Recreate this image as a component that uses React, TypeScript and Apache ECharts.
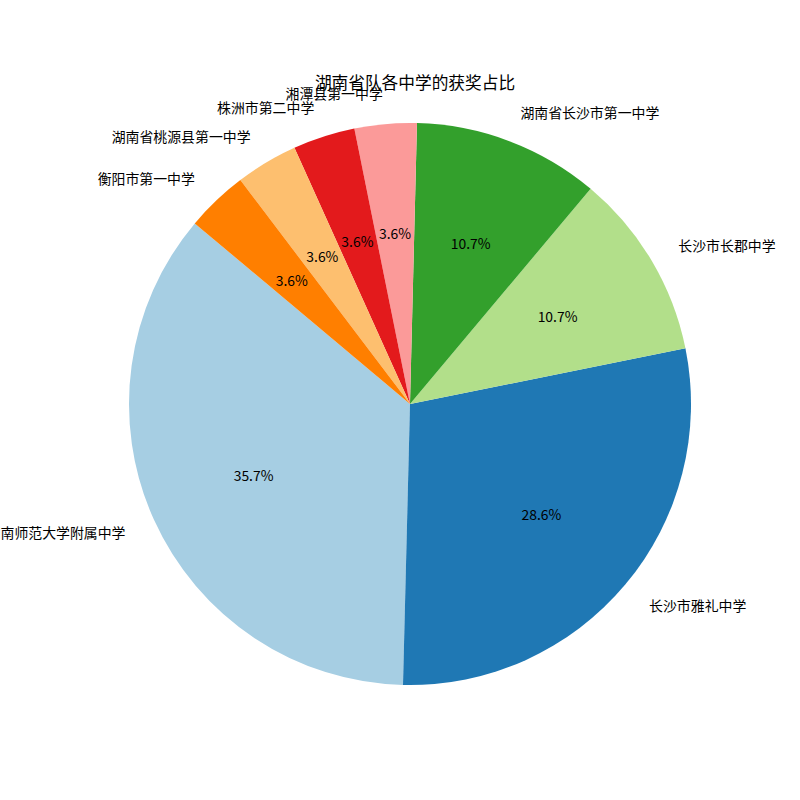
import React, { useEffect, useRef } from "react";
import * as echarts from "echarts";

const schools = [
  "湖南师范大学附属中学",
  "长沙市雅礼中学",
  "长沙市长郡中学",
  "湖南省长沙市第一中学",
  "湘潭县第一中学",
  "株洲市第二中学",
  "湖南省桃源县第一中学",
  "衡阳市第一中学",
];
const awards = [10, 8, 3, 3, 1, 1, 1, 1];
const colors = ["#a6cee3", "#1f78b4", "#b2df8a", "#33a02c", "#fb9a99", "#e31a1c", "#fdbf6f", "#ff7f00"];
const titleText = "湖南省队各中学的获奖占比";

const START = 140;
const CX = 410;
const CY = 404;
const R = 281;
const FONT = "'Noto Sans CJK SC', 'Noto Sans', sans-serif";

export default function App() {
  const ref = useRef<HTMLDivElement>(null);
  useEffect(() => {
    if (!ref.current) return;
    const chart = echarts.init(ref.current, undefined, { renderer: "svg" });
    const total = awards.reduce((a, b) => a + b, 0);
    let cum = 0;
    const sides = awards.map((v) => {
      const mid = START + (360 * (cum + v / 2)) / total;
      cum += v;
      return Math.cos((mid * Math.PI) / 180) > 0 ? "left" : "right";
    });
    const data = schools.map((name, i) => ({ name, value: awards[i] }));
    const transparent = { color: "rgba(0,0,0,0)" };
    chart.setOption({
      animation: false,
      title: {
        text: titleText,
        left: CX,
        top: 69,
        textAlign: "center",
        textStyle: { fontFamily: FONT, fontSize: 16.7, fontWeight: "normal", color: "#000" },
      },
      series: [
        {
          type: "pie",
          center: [CX, CY],
          radius: [0, R],
          startAngle: START,
          clockwise: false,
          silent: true,
          data: data.map((d, i) => ({ ...d, itemStyle: { color: colors[i] } })),
          label: { show: false },
          labelLine: { show: false },
          itemStyle: { borderWidth: 0 },
          emphasis: { disabled: true },
        },
        {
          type: "pie",
          center: [CX, CY],
          radius: [0, R * 1.2],
          startAngle: START,
          clockwise: false,
          silent: true,
          data,
          itemStyle: transparent,
          label: {
            show: true,
            position: "inside",
            formatter: (p: any) => p.percent.toFixed(1) + "%",
            fontFamily: FONT,
            fontSize: 13.9,
            color: "#000",
          },
          labelLine: { show: false },
          emphasis: { disabled: true },
        },
        {
          type: "pie",
          center: [CX, CY],
          radius: [R * 1.1, R * 1.1],
          startAngle: START,
          clockwise: false,
          silent: true,
          data,
          itemStyle: transparent,
          label: {
            show: true,
            position: "inside",
            formatter: "{b}",
            fontFamily: FONT,
            fontSize: 13.9,
            color: "#000",
          },
          labelLayout: (p: any) => ({ align: sides[p.dataIndex], verticalAlign: "middle" }),
          labelLine: { show: false },
          emphasis: { disabled: true },
        },
      ],
    });
    return () => chart.dispose();
  }, []);
  return (
    <div
      ref={ref}
      style={{ position: "fixed", left: 0, top: 0, width: 800, height: 800, background: "#fff" }}
    />
  );
}
